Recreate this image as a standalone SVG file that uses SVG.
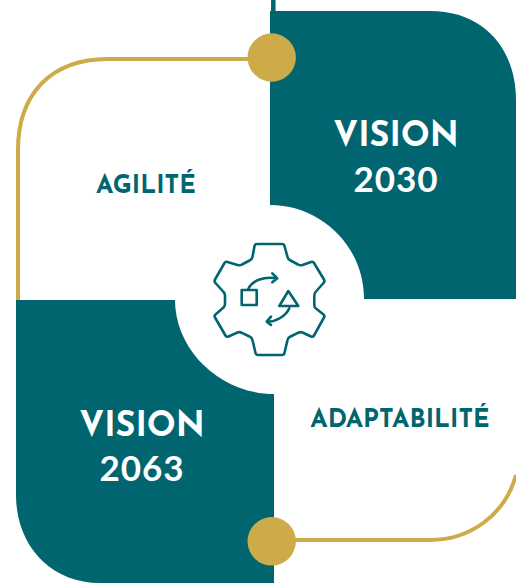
<svg xmlns="http://www.w3.org/2000/svg" width="516" height="583" viewBox="0 0 516 583">
<style>
.t{font-family:"Josefin Sans","Lato","Liberation Sans",sans-serif;font-weight:700;text-anchor:middle}
.w{fill:#fff;font-size:34px}
.g{fill:#00656f;font-size:25px}
.n{font-family:"Lato","Liberation Sans",sans-serif;font-weight:700;text-anchor:middle;fill:#fff;font-size:35px;letter-spacing:1px}
.teal{fill:#00656f}
.gold{fill:#cdab48}
.line{fill:none;stroke:#cdab48;stroke-width:4}
.ic{fill:none;stroke:#00656f;stroke-width:2.600;stroke-linejoin:round;stroke-linecap:round}
</style>
<rect width="516" height="583" fill="#fff"/>
<g id="connectors">
<path class="line" d="M272 59H108C50 59 18 95 18 150V300"/>
<path class="line" d="M272 540H430C470 540 505 515 516 475"/>
</g>
<g id="vision-2030">
<path class="teal" d="M270 11H430C485 11 516 50 516 100V299H364C364 245 320 205 270 205Z"/>
<path d="M273.300 0V11" stroke="#00656f" stroke-width="4.500" fill="none"/>
<text class="t w" x="396" y="146">VISION</text>
<text class="n" x="396" y="192">2030</text>
</g>
<g id="vision-2063">
<path class="teal" d="M16 300H175C175 350 220 394 274 394V583H100C50 583 16 545 16 495Z"/>
<text class="t w" x="142" y="436">VISION</text>
<text class="n" x="142" y="481">2063</text>
</g>
<g id="agilite"><text class="t g" x="146" y="193">AGILITÉ</text></g>
<g id="adaptabilite"><text class="t g" x="400" y="427">ADAPTABILITÉ</text></g>
<g id="dot-top"><circle class="gold" cx="271.700" cy="57.500" r="24.200"/></g>
<g id="dot-bottom"><circle class="gold" cx="271.700" cy="541.300" r="24.200"/></g>
<g id="gear">
<path class="ic" d="M257 244H282Q284 244 284.500 246L287.500 257Q288 259.500 290.500 260.500L298 264.500Q300 265.700 302.500 265L311 262Q313 261.300 314 263L324 279.500Q325 281.700 323.500 283L315.500 292Q314.300 293.500 314.300 296V305Q314.300 307.300 316 308.500L323.500 314.500Q325 315.700 324 317.500L314 335.500Q313 337.300 311 336.500L302.500 332.500Q300 331.700 298 332.800L290.500 336.500Q288 337.500 287.500 340L284.500 353Q284 355 282 355H258Q256 355 255.500 353L252.500 340Q252 337.500 249.500 336.500L242 332.800Q240 331.700 237.500 332.500L228.500 336.500Q226.500 337.300 225.500 335.500L215 317.500Q214 315.700 215.500 314.500L223.500 307.500Q225 306 225 304V295.500Q225 293.500 223.500 292L215.500 283Q214 281.500 215 279.500L224.500 263Q225.500 261.300 227.500 262L237.500 265Q240 265.700 242 264.500L249.500 260.500Q252 259.500 252.500 257L254.500 246Q255 244 257 244Z"/>
<rect class="ic" x="241.700" y="290" width="15" height="15"/>
<path class="ic" d="M288.300 291L298.300 306H279.300Z"/>
<path class="ic" d="M248.300 289C252 281 263 276 277 278.300M272.300 273.300L277.300 278.300L272.300 282.300"/>
<path class="ic" d="M289.300 308.300C286 316 276 322 266.700 321.700M271 316.700L266.700 321.700L271 325"/>
</g>
</svg>
